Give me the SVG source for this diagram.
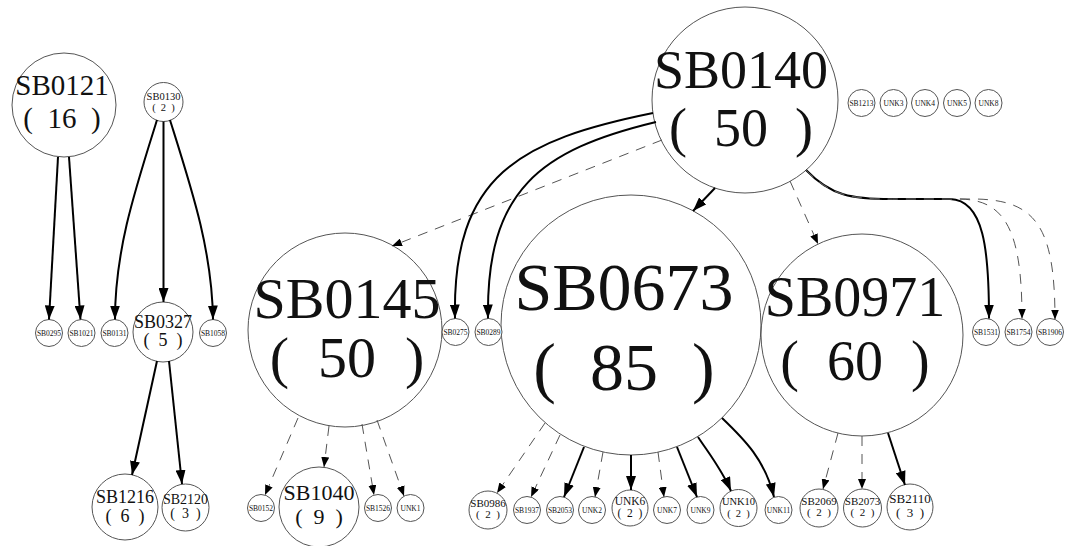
<svg xmlns="http://www.w3.org/2000/svg" width="1071" height="546" viewBox="0 0 1071 546">
<style>
.n circle{fill:#fff;stroke:#555;stroke-width:1}
text{font-family:"Liberation Serif","Times New Roman",serif;fill:#111;text-anchor:middle;white-space:pre}
.s text{font-size:7.5px}
.e{fill:none;stroke:#000;stroke-width:2;marker-end:url(#as)}
.d{fill:none;stroke:#555;stroke-width:1;stroke-dasharray:10 8;marker-end:url(#ad)}
</style>
<defs>
<marker id="as" markerUnits="userSpaceOnUse" markerWidth="14" markerHeight="10" refX="14" refY="5" orient="auto"><path d="M0,0 L14,5 L0,10 z" fill="#000"/></marker>
<marker id="ad" markerUnits="userSpaceOnUse" markerWidth="10" markerHeight="8" refX="10" refY="4" orient="auto"><path d="M0,0 L10,4 L0,8 z" fill="#000"/></marker>
</defs>
<rect width="1071" height="546" fill="#fff"/>
<g id="nodes">
<g id="SB0121" class="n"><circle cx="64" cy="105" r="52"/><text font-size="29" xml:space="preserve"><tspan x="62" y="95">SB0121</tspan><tspan x="62" y="128">(  16  )</tspan></text></g>
<g id="SB0130" class="n"><circle cx="163.5" cy="102" r="19.5"/><text font-size="10.5" xml:space="preserve"><tspan x="163.5" y="100">SB0130</tspan><tspan x="163.5" y="111">(  2  )</tspan></text></g>
<g id="SB0327" class="n"><circle cx="163" cy="332" r="30"/><text font-size="18" xml:space="preserve"><tspan x="163" y="328">SB0327</tspan><tspan x="163" y="346">(  5  )</tspan></text></g>
<g id="SB1216" class="n"><circle cx="125" cy="507" r="33"/><text font-size="18" xml:space="preserve"><tspan x="125" y="503">SB1216</tspan><tspan x="125" y="522">(  6  )</tspan></text></g>
<g id="SB2120" class="n"><circle cx="185.5" cy="507.5" r="23.5"/><text font-size="14" xml:space="preserve"><tspan x="185.5" y="504">SB2120</tspan><tspan x="185.5" y="518">(  3  )</tspan></text></g>
<g id="SB0140" class="n"><circle cx="745" cy="100" r="93"/><text font-size="54" xml:space="preserve"><tspan x="741" y="88">SB0140</tspan><tspan x="741" y="146">(  50  )</tspan></text></g>
<g id="SB0145" class="n"><circle cx="345" cy="330" r="97"/><text font-size="58" xml:space="preserve"><tspan x="347" y="318">SB0145</tspan><tspan x="347" y="377">(  50  )</tspan></text></g>
<g id="SB0673" class="n"><circle cx="631" cy="325" r="130"/><text font-size="68" xml:space="preserve"><tspan x="624" y="310">SB0673</tspan><tspan x="624" y="390">(  85  )</tspan></text></g>
<g id="SB0971" class="n"><circle cx="862" cy="335" r="101"/><text font-size="56" xml:space="preserve"><tspan x="855" y="316">SB0971</tspan><tspan x="855" y="380">(  60  )</tspan></text></g>
<g id="SB1040" class="n"><circle cx="319" cy="507" r="40"/><text font-size="22" xml:space="preserve"><tspan x="319" y="500">SB1040</tspan><tspan x="319" y="524">(  9  )</tspan></text></g>
<g id="SB0986" class="n"><circle cx="488" cy="510" r="19"/><text font-size="11" xml:space="preserve"><tspan x="488" y="507">SB0986</tspan><tspan x="488" y="518">(  2  )</tspan></text></g>
<g id="UNK6" class="n"><circle cx="630" cy="508" r="18"/><text font-size="11.5" xml:space="preserve"><tspan x="630" y="505">UNK6</tspan><tspan x="630" y="517">(  2  )</tspan></text></g>
<g id="UNK10" class="n"><circle cx="738.5" cy="508" r="18.5"/><text font-size="10.5" xml:space="preserve"><tspan x="738.5" y="505">UNK10</tspan><tspan x="738.5" y="517">(  2  )</tspan></text></g>
<g id="SB2069" class="n"><circle cx="819" cy="508" r="19"/><text font-size="11" xml:space="preserve"><tspan x="819" y="505">SB2069</tspan><tspan x="819" y="516">(  2  )</tspan></text></g>
<g id="SB2073" class="n"><circle cx="862.5" cy="508" r="19"/><text font-size="11" xml:space="preserve"><tspan x="862.5" y="505">SB2073</tspan><tspan x="862.5" y="516">(  2  )</tspan></text></g>
<g id="SB2110" class="n"><circle cx="910" cy="507" r="23"/><text font-size="13" xml:space="preserve"><tspan x="910" y="503">SB2110</tspan><tspan x="910" y="517">(  3  )</tspan></text></g>
<g id="SB0295" class="n s"><circle cx="49" cy="333" r="13.5"/><text x="49" y="335.7">SB0295</text></g>
<g id="SB1021" class="n s"><circle cx="81.5" cy="333" r="13.5"/><text x="81.5" y="335.7">SB1021</text></g>
<g id="SB0131" class="n s"><circle cx="114.5" cy="333" r="13.5"/><text x="114.5" y="335.7">SB0131</text></g>
<g id="SB1058" class="n s"><circle cx="213" cy="333" r="13.5"/><text x="213" y="335.7">SB1058</text></g>
<g id="SB0275" class="n s"><circle cx="455.5" cy="332" r="13.5"/><text x="455.5" y="334.7">SB0275</text></g>
<g id="SB0289" class="n s"><circle cx="488.5" cy="332" r="13.5"/><text x="488.5" y="334.7">SB0289</text></g>
<g id="SB1531" class="n s"><circle cx="986" cy="332" r="13.5"/><text x="986" y="334.7">SB1531</text></g>
<g id="SB1754" class="n s"><circle cx="1018.5" cy="332" r="13.5"/><text x="1018.5" y="334.7">SB1754</text></g>
<g id="SB1906" class="n s"><circle cx="1050" cy="332" r="13.5"/><text x="1050" y="334.7">SB1906</text></g>
<g id="SB1213" class="n s"><circle cx="861.5" cy="103" r="13.5"/><text x="861.5" y="105.7">SB1213</text></g>
<g id="UNK3" class="n s"><circle cx="893.5" cy="103" r="13.5"/><text x="893.5" y="105.7">UNK3</text></g>
<g id="UNK4" class="n s"><circle cx="925" cy="103" r="13.5"/><text x="925" y="105.7">UNK4</text></g>
<g id="UNK5" class="n s"><circle cx="957" cy="103" r="13.5"/><text x="957" y="105.7">UNK5</text></g>
<g id="UNK8" class="n s"><circle cx="988.5" cy="103" r="13.5"/><text x="988.5" y="105.7">UNK8</text></g>
<g id="SB0152" class="n s"><circle cx="261" cy="508" r="13.5"/><text x="261" y="510.7">SB0152</text></g>
<g id="SB1526" class="n s"><circle cx="378" cy="508" r="13.5"/><text x="378" y="510.7">SB1526</text></g>
<g id="UNK1" class="n s"><circle cx="410.5" cy="508" r="13.5"/><text x="410.5" y="510.7">UNK1</text></g>
<g id="SB1937" class="n s"><circle cx="527" cy="510" r="13.5"/><text x="527" y="512.7">SB1937</text></g>
<g id="SB2053" class="n s"><circle cx="560" cy="510" r="13.5"/><text x="560" y="512.7">SB2053</text></g>
<g id="UNK2" class="n s"><circle cx="592" cy="510" r="13.5"/><text x="592" y="512.7">UNK2</text></g>
<g id="UNK7" class="n s"><circle cx="667" cy="510" r="13.5"/><text x="667" y="512.7">UNK7</text></g>
<g id="UNK9" class="n s"><circle cx="700.5" cy="510" r="13.5"/><text x="700.5" y="512.7">UNK9</text></g>
<g id="UNK11" class="n s"><circle cx="778.5" cy="510" r="13.5"/><text x="778.5" y="512.7">UNK11</text></g>
</g>
<g id="connectors">
<path class="e" d="M58,157 L49,319.5"/>
<path class="e" d="M69,157 L80.5,319.5"/>
<path class="e" d="M157,120 C135,190 115,250 115,319.5"/>
<path class="e" d="M163.5,121.5 L163.5,302"/>
<path class="e" d="M170,120 C192,190 212,250 213,319.5"/>
<path class="e" d="M157,361 L132,475"/>
<path class="e" d="M169,361 L182,484"/>
<path class="d" d="M662,140 L392,246"/>
<path class="e" d="M653,113 C520,140 452,175 455,318.5"/>
<path class="e" d="M656,122 C540,150 486,190 488,318.5"/>
<path class="e" d="M715,188 L693,211"/>
<path class="d" d="M790,181 L818,244"/>
<path class="e" d="M806,170 C830,195 850,200 900,199 L950,199 C984,200 989,250 989,318.5"/>
<path class="d" d="M806,170 C830,195 850,200 900,199 L960,199 C1005,200 1022,230 1022,318.5"/>
<path class="d" d="M806,170 C830,195 850,200 900,199 L975,199 C1035,200 1055,225 1055,319.5"/>
<path class="d" d="M298,418 L265,495"/>
<path class="d" d="M329,426 L324,467"/>
<path class="d" d="M362,424 L374,495"/>
<path class="d" d="M377,420 L404,496"/>
<path class="d" d="M545,423 L497,493"/>
<path class="d" d="M560,435 L531,497"/>
<path class="e" d="M584,447 L564,497"/>
<path class="d" d="M603,452 L595,497"/>
<path class="e" d="M631,455 L631,490"/>
<path class="d" d="M658,452 L664,497"/>
<path class="e" d="M677,447 L697,497"/>
<path class="e" d="M698,437 C710,455 722,470 731,491"/>
<path class="e" d="M722,418 C745,440 765,460 774,497"/>
<path class="d" d="M838,433 L823,489"/>
<path class="d" d="M862,436 L862,489"/>
<path class="e" d="M888,433 L905,485"/>
</g>
</svg>
